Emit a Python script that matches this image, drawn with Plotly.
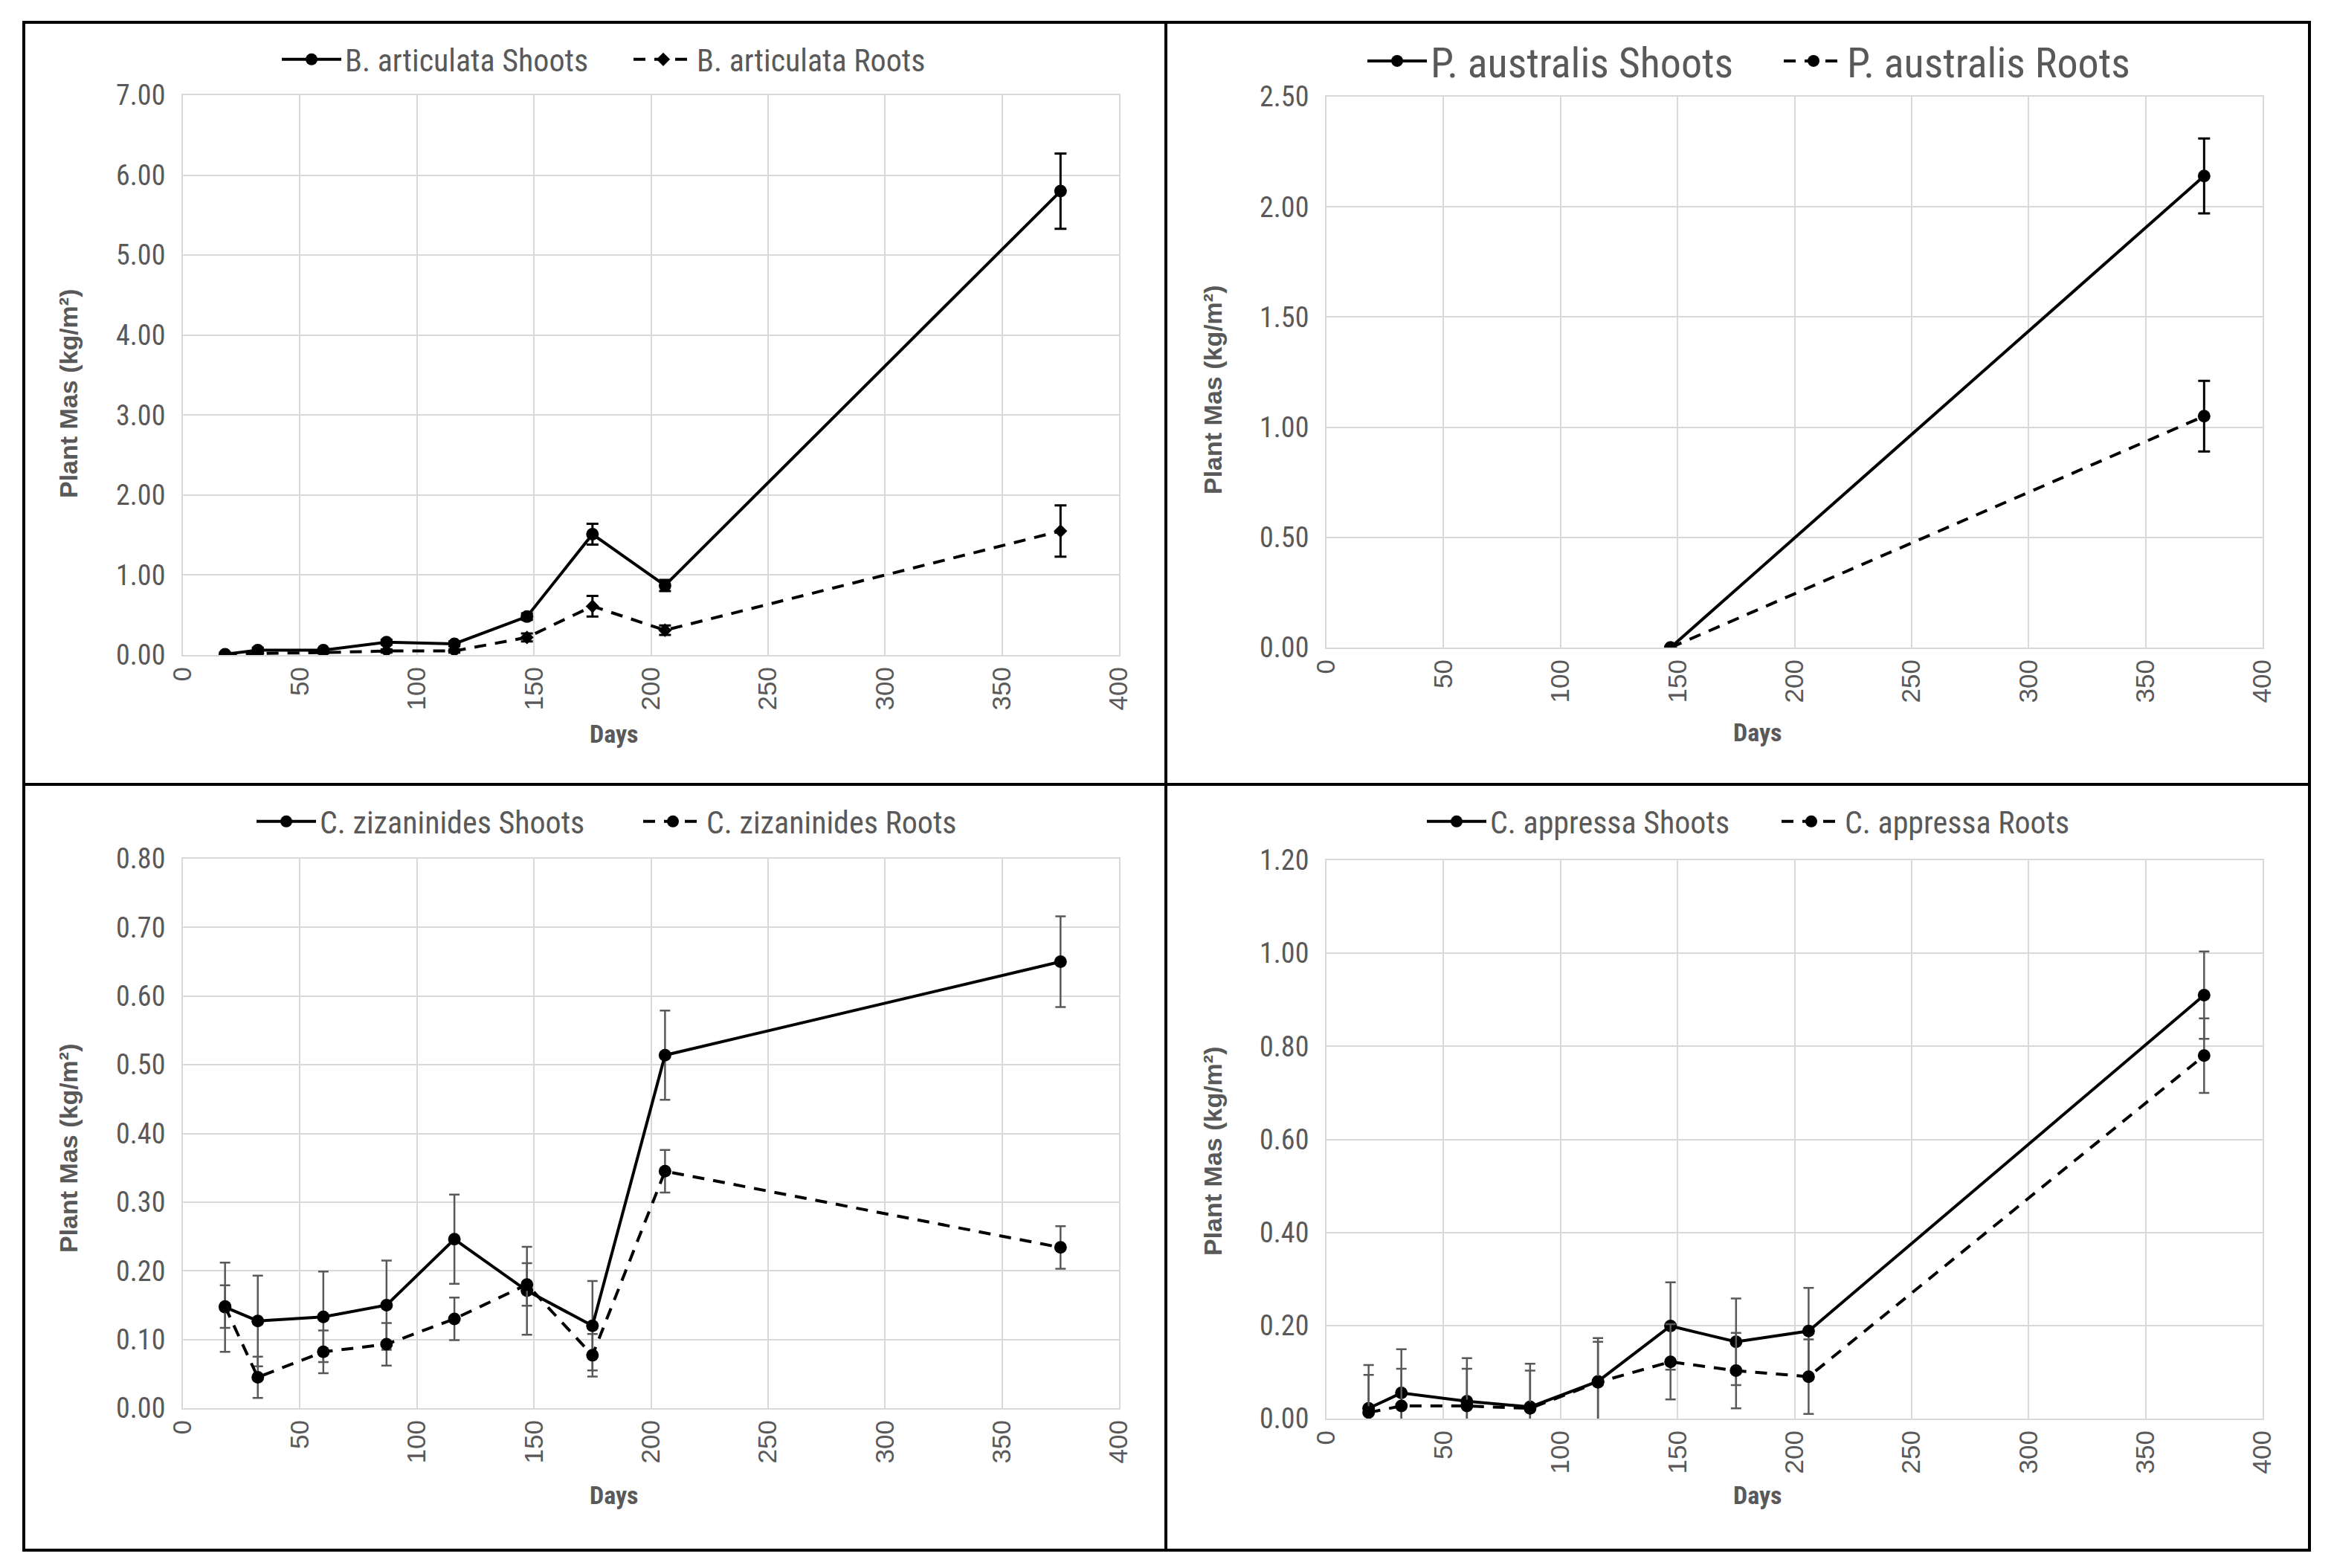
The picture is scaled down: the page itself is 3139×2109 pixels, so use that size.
import plotly.graph_objects as go

W, H = 3139, 2109

# ---------------- data ----------------
days_a = [18, 32, 60, 87, 116, 147, 175, 206, 375]
a_shoots = [0.01, 0.06, 0.06, 0.16, 0.14, 0.48, 1.51, 0.87, 5.80]
a_shoots_err = [0.02, 0.03, 0.02, 0.03, 0.03, 0.04, 0.13, 0.07, 0.47]
a_roots = [0.00, 0.02, 0.03, 0.05, 0.05, 0.22, 0.61, 0.31, 1.55]
a_roots_err = [0.01, 0.02, 0.01, 0.02, 0.02, 0.05, 0.13, 0.06, 0.32]

days_b = [147, 375]
b_shoots = [0.00, 2.14]
b_shoots_err = [0.0, 0.17]
b_roots = [0.00, 1.05]
b_roots_err = [0.0, 0.16]

days_c = [18, 32, 60, 87, 116, 147, 175, 206, 375]
c_shoots = [0.147, 0.127, 0.133, 0.150, 0.246, 0.171, 0.120, 0.514, 0.650]
c_shoots_err = [0.065, 0.066, 0.066, 0.065, 0.065, 0.064, 0.065, 0.065, 0.066]
c_roots = [0.148, 0.045, 0.082, 0.093, 0.130, 0.180, 0.077, 0.345, 0.234]
c_roots_err = [0.031, 0.030, 0.031, 0.031, 0.031, 0.031, 0.031, 0.031, 0.031]

days_d = [18, 32, 60, 87, 116, 147, 175, 206, 375]
d_shoots = [0.022, 0.055, 0.037, 0.025, 0.080, 0.199, 0.165, 0.188, 0.910]
d_shoots_err = [0.093, 0.094, 0.093, 0.093, 0.093, 0.094, 0.093, 0.093, 0.094]
d_roots = [0.013, 0.027, 0.027, 0.022, 0.078, 0.122, 0.103, 0.090, 0.780]
d_roots_err = [0.081, 0.080, 0.080, 0.081, 0.087, 0.081, 0.081, 0.080, 0.080]

x_ticks = [0, 50, 100, 150, 200, 250, 300, 350, 400]
y_title = "Plant Mas (kg/m²)"
x_title = "Days"

panels = [
    dict(name="B. articulata", x=days_a, s=a_shoots, se=a_shoots_err, r=a_roots, re=a_roots_err,
         ymax=7.0, dtick=1.0, roots_symbol="diamond", err_color="#000000", err_w=3, cap=8),
    dict(name="P. australis", x=days_b, s=b_shoots, se=b_shoots_err, r=b_roots, re=b_roots_err,
         ymax=2.5, dtick=0.5, roots_symbol="circle", err_color="#000000", err_w=3, cap=8),
    dict(name="C. zizaninides", x=days_c, s=c_shoots, se=c_shoots_err, r=c_roots, re=c_roots_err,
         ymax=0.8, dtick=0.1, roots_symbol="circle", err_color="#595959", err_w=2.5, cap=7),
    dict(name="C. appressa", x=days_d, s=d_shoots, se=d_shoots_err, r=d_roots, re=d_roots_err,
         ymax=1.2, dtick=0.2, roots_symbol="circle", err_color="#595959", err_w=2.5, cap=7),
]

# ---------------- layout geometry (pixels) ----------------
plot_px = [
    (246, 1505, 128, 881),
    (1784, 3043, 130, 871),
    (246, 1505, 1155, 1894),
    (1784, 3043, 1157, 1908),
]
# legend left x, center y, font size, entry width
legend_px = [(374, 80, 42, 378), (1834, 82, 56, 465), (340, 1105, 42, 425), (1914, 1105, 42, 382)]
# y-title centre (x, y), x-title centre (x, y)
ytitle_px = [(92, 530), (1631, 525), (92, 1545), (1631, 1549)]
xtitle_px = [(826, 987), (2364, 985), (826, 2011), (2364, 2011)]

TXT = "#595959"
GRID = "#d9d9d9"
NARROW = "Liberation Sans Narrow, Arial Narrow, Roboto Condensed, Liberation Sans, Arial"
REG = "Liberation Sans, Arial, sans-serif"

fig = go.Figure()
layout = dict(
    width=W, height=H, margin=dict(l=0, r=0, t=0, b=0, autoexpand=False),
    paper_bgcolor="white", plot_bgcolor="white", showlegend=True,
)
annotations = []

for i, p in enumerate(panels):
    k = "" if i == 0 else str(i + 1)
    xa, ya = "x" + k, "y" + k
    leg = "legend" + k
    x0, x1, y0, y1 = plot_px[i]
    dash = "16px,12px"
    fig.add_trace(go.Scatter(
        x=p["x"], y=p["s"], mode="lines+markers", name=p["name"] + " Shoots",
        xaxis=xa, yaxis=ya, legend=leg,
        line=dict(color="black", width=4),
        marker=dict(symbol="circle", size=17, color="black"),
        error_y=dict(type="data", array=p["se"], visible=True, color=p["err_color"],
                     thickness=p["err_w"], width=p["cap"]),
    ))
    fig.add_trace(go.Scatter(
        x=p["x"], y=p["r"], mode="lines+markers", name=p["name"] + " Roots",
        xaxis=xa, yaxis=ya, legend=leg,
        line=dict(color="black", width=4, dash=dash),
        marker=dict(symbol=p["roots_symbol"], size=17 if p["roots_symbol"] == "circle" else 14,
                    color="black"),
        error_y=dict(type="data", array=p["re"], visible=True, color=p["err_color"],
                     thickness=p["err_w"], width=p["cap"]),
    ))
    layout["xaxis" + k] = dict(
        domain=[x0 / W, x1 / W], anchor=ya, range=[0, 400], automargin=False,
        tickmode="array", tickvals=x_ticks, ticktext=[str(t) for t in x_ticks],
        tickangle=-90, showgrid=True, gridcolor=GRID, gridwidth=2,
        showline=True, linecolor=GRID, linewidth=2, mirror=True, zeroline=False,
        ticks="", ticklabelstandoff=0,
        tickfont=dict(family=REG, size=35, color=TXT),
    )
    layout["yaxis" + k] = dict(
        domain=[1 - y1 / H, 1 - y0 / H], anchor=xa, range=[0, p["ymax"]], automargin=False,
        dtick=p["dtick"], tick0=0, tickformat=".2f",
        showgrid=True, gridcolor=GRID, gridwidth=2,
        showline=True, linecolor=GRID, linewidth=2, mirror=True,
        zeroline=True, zerolinecolor="#bfbfbf", zerolinewidth=3,
        ticks="", ticklabelstandoff=14,
        tickfont=dict(family=NARROW, size=38, color=TXT),
    )
    lx, ly, lfs, ew = legend_px[i]
    layout[leg] = dict(
        orientation="h", x=lx / W, y=1 - ly / H, xanchor="left", yanchor="middle",
        xref="paper", yref="paper", bgcolor="rgba(0,0,0,0)",
        font=dict(family=NARROW, size=lfs, color=TXT),
        itemwidth=80, entrywidth=ew, entrywidthmode="pixels", traceorder="normal",
    )
    tx, ty = ytitle_px[i]
    annotations.append(dict(
        text="<b>" + y_title + "</b>", textangle=-90, showarrow=False,
        xref="paper", yref="paper", x=tx / W, y=1 - ty / H, xanchor="center", yanchor="middle",
        font=dict(family=REG, size=34, color=TXT),
    ))
    dx, dy = xtitle_px[i]
    annotations.append(dict(
        text="<b>" + x_title + "</b>", showarrow=False,
        xref="paper", yref="paper", x=dx / W, y=1 - dy / H, xanchor="center", yanchor="middle",
        font=dict(family=NARROW, size=34, color=TXT),
    ))

# panel borders
bx0, by0, bx1, by1 = 32, 30, 3106, 2085
mx, my = 1568, 1055
shapes = [
    dict(type="rect", xref="paper", yref="paper", x0=bx0 / W, x1=bx1 / W, y0=1 - by1 / H, y1=1 - by0 / H,
         line=dict(color="black", width=4)),
    dict(type="line", xref="paper", yref="paper", x0=mx / W, x1=mx / W, y0=1 - by1 / H, y1=1 - by0 / H,
         line=dict(color="black", width=4)),
    dict(type="line", xref="paper", yref="paper", x0=bx0 / W, x1=bx1 / W, y0=1 - my / H, y1=1 - my / H,
         line=dict(color="black", width=4)),
]
layout["shapes"] = shapes
layout["annotations"] = annotations
fig.update_layout(**layout)
fig.write_html("out.html")
